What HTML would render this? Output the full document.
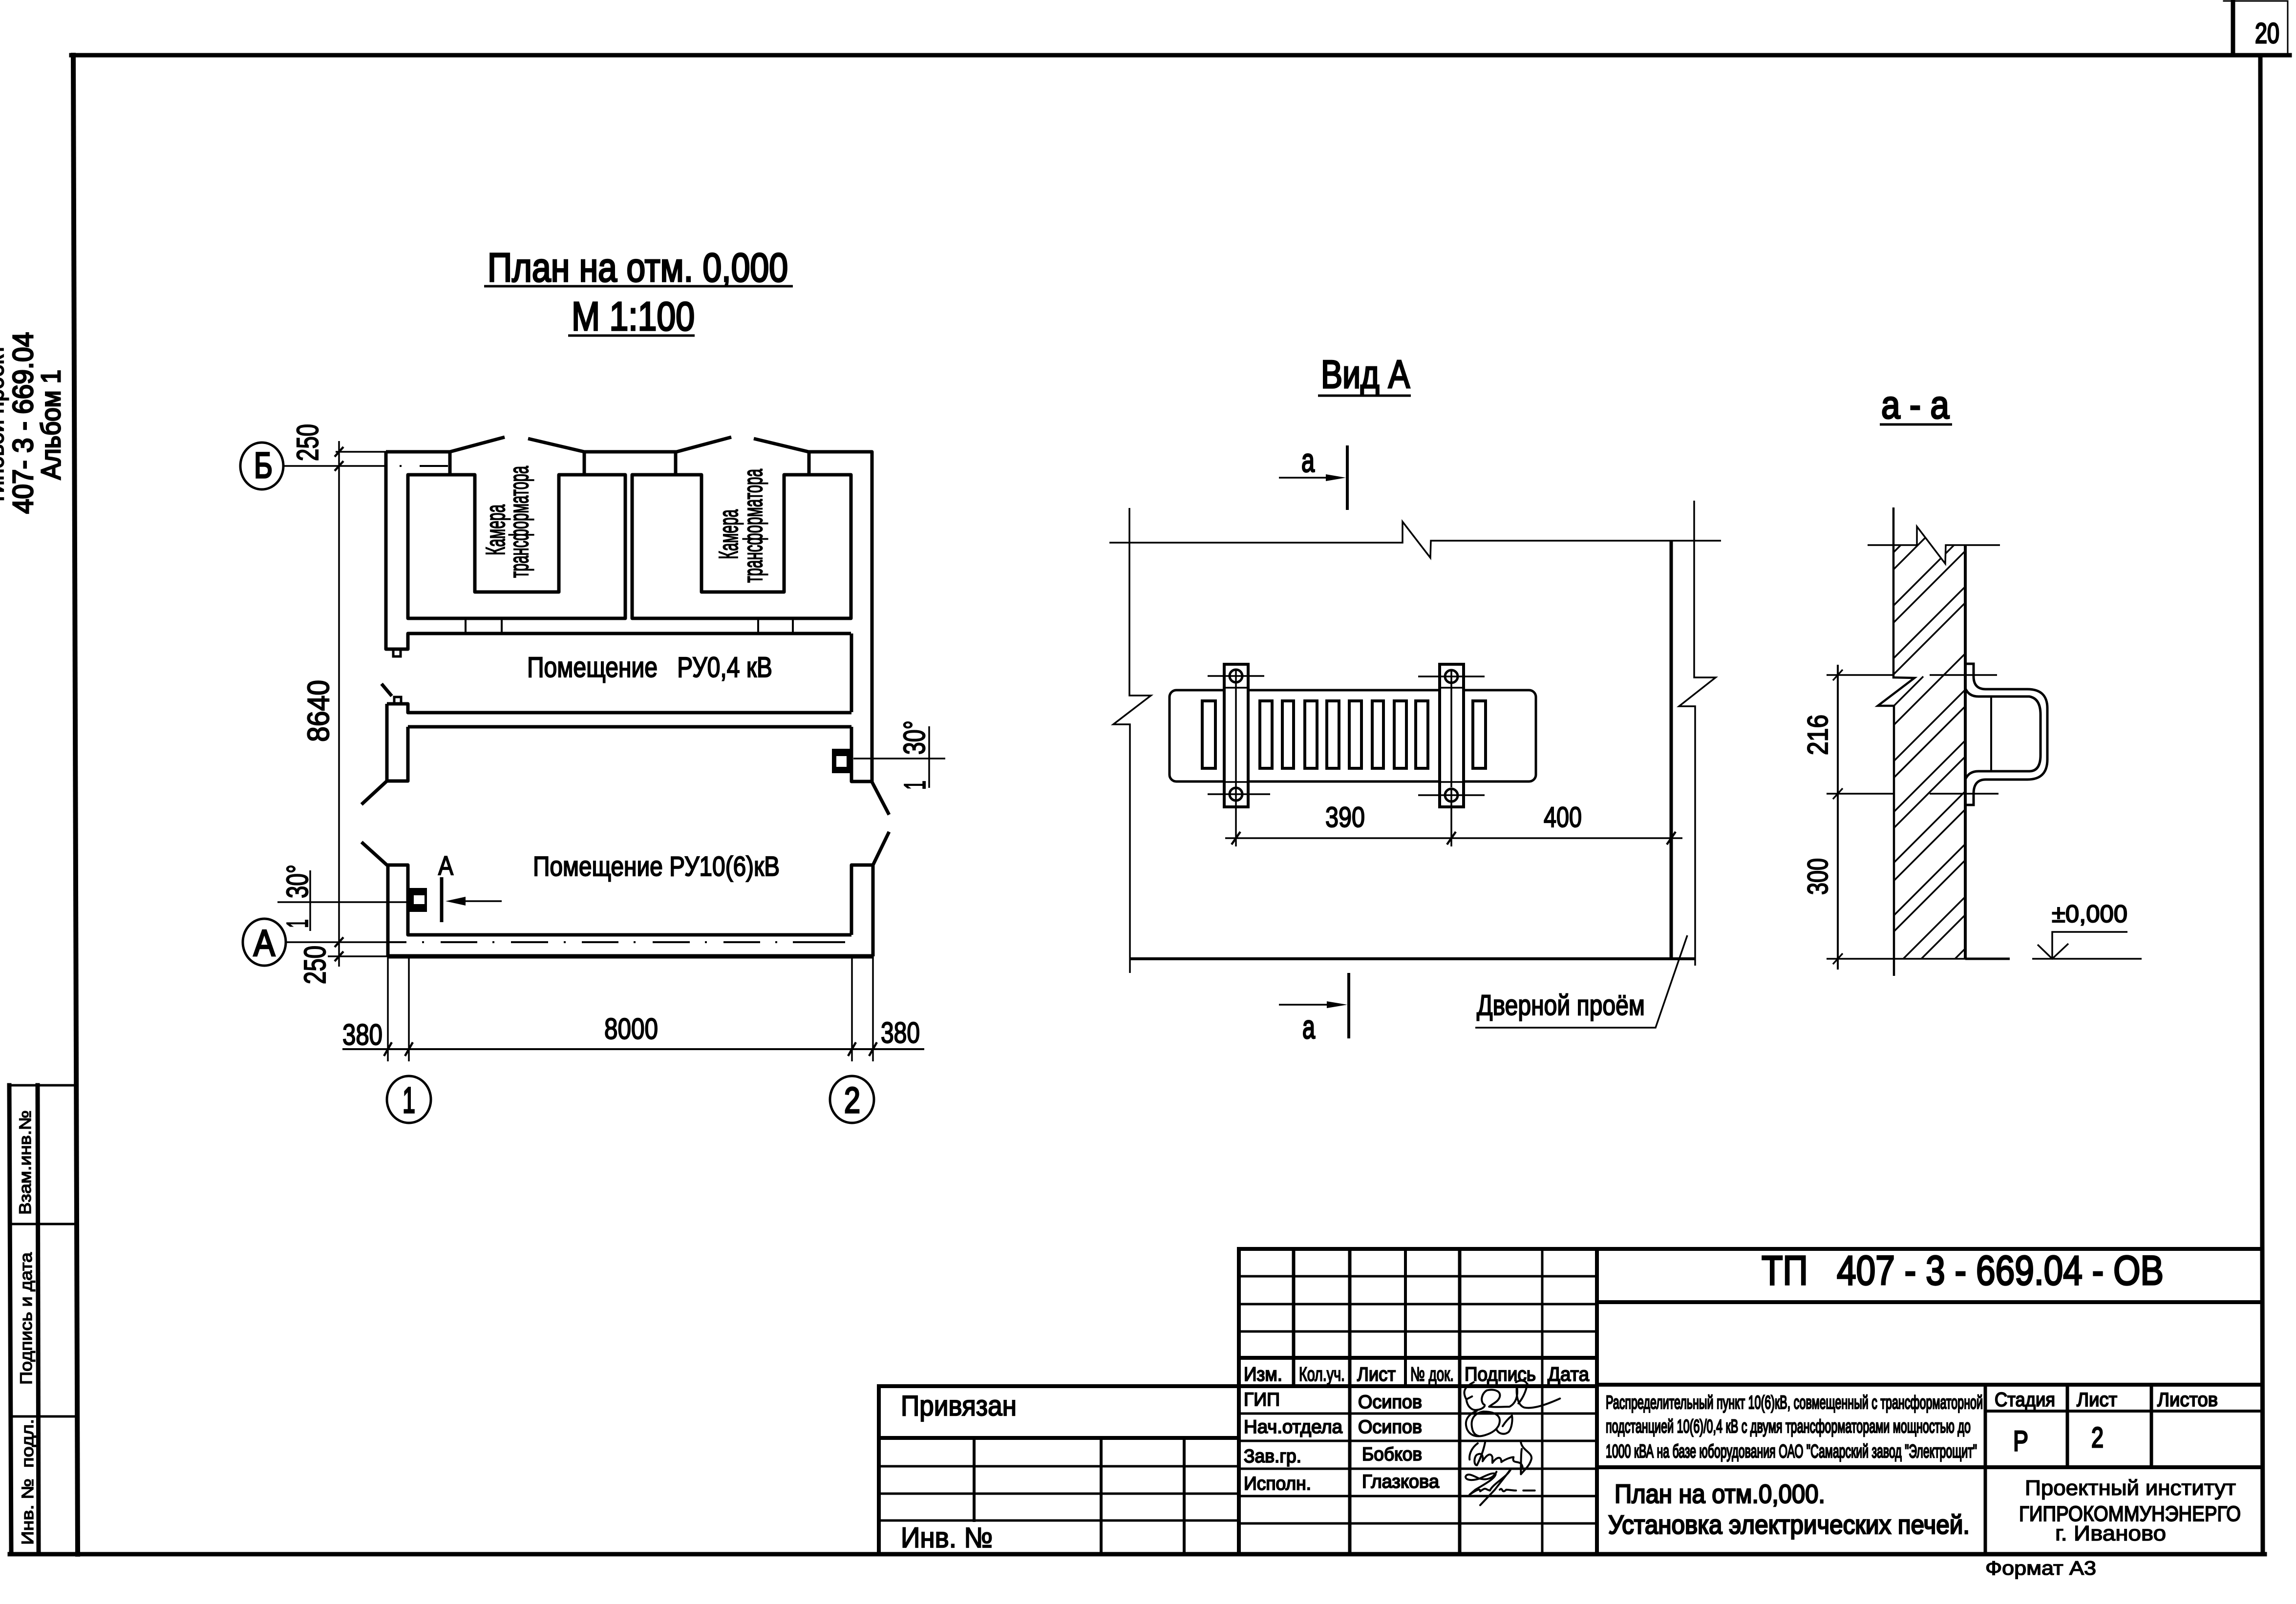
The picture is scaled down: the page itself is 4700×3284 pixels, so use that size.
<!DOCTYPE html>
<html><head><meta charset="utf-8"><style>
html,body{margin:0;padding:0;background:#fff}
svg{display:block}
text{font-family:"Liberation Sans",sans-serif;fill:#000;stroke:#000;stroke-width:2.2;white-space:pre}
</style></head><body>
<svg width="4700" height="3284" viewBox="0 0 4700 3284" xmlns="http://www.w3.org/2000/svg">
<rect width="4700" height="3284" fill="#fff"/>
<defs><clipPath id="wall"><polygon points="3877,1116 3924,1116 3924,1078 3982,1154 3983,1116 4023,1116 4023,1963 3877,1963 3877,1445 3844,1445 3919,1388 3877,1387"/></clipPath></defs>

<!-- frame -->
<g fill="none" stroke="#000" stroke-linecap="square">
<path d="M150 113 L159 3182" stroke-width="10"/>
<path d="M146 113 H4687" stroke-width="9"/>
<path d="M4627 113 L4632 3180" stroke-width="9"/>
<path d="M20 3182 H4636" stroke-width="9"/>
<path d="M4571 2 V113" stroke-width="9"/>
<path d="M4552 2 H4683 V113" stroke-width="3"/>
<!-- side stamp -->
<path d="M19 2222 L23 3179" stroke-width="9"/>
<path d="M77 2222 L79 3179" stroke-width="9"/>
<path d="M19 2222 H152" stroke-width="5"/>
<path d="M21 2506 H155" stroke-width="5"/>
<path d="M22 2900 H157" stroke-width="5"/>
</g>

<!-- plan walls -->
<g fill="none" stroke="#000" stroke-width="7" stroke-linejoin="round">
<path d="M790 925 V1329 H835 V1297 H1742"/>
<path d="M835 972 H972 V1212 H1144 V972 H1280 V1266 H835 Z"/>
<path d="M1294 972 H1436 V1212 H1605 V972 H1742 V1266 H1294 Z"/>
<path d="M790 925 H921 L1033 895"/>
<path d="M1081 898 L1196 925 H1385 L1497 895"/>
<path d="M1543 898 L1655 925 H1785 V1601 L1820 1668"/>
<path d="M1743 1297 V1458"/>
<path d="M1743 1488 V1600 H1785"/>
<path d="M921 925 V972 M1196 925 V972 M1383 925 V972 M1656 925 V972"/>
<path d="M781 1400 L802 1425"/>
<path d="M792 1441 H835 V1459 H1743"/>
<path d="M835 1488 H1743"/>
<path d="M792 1441 V1599 H835 V1488"/>
<path d="M792 1599 L740 1647"/>
<path d="M740 1724 L792 1771 H835 V1914 H1743"/>
<path d="M794 1771 V1958"/>
<path d="M1743 1914 V1771 H1787 V1958"/>
<path d="M1787 1771 L1820 1703"/>
<path d="M794 1958 H1787" stroke-width="9"/>
</g>
<g fill="none" stroke="#000" stroke-width="4">
<path d="M953 1266 V1297 M1027 1266 V1297 M1552 1266 V1297 M1623 1266 V1297"/>
<path d="M805 1329 V1344 H820 V1329" stroke-width="5"/>
<path d="M807 1441 V1427 H821 V1441" stroke-width="5"/>
<path d="M859 954 H917"/>
<path d="M820 952 V956"/>
<path d="M794 1929 H832 M902 1929 H977 M1046 1929 H1122 M1191 1929 H1266 M1336 1929 H1412 M1481 1929 H1556 M1623 1929 H1730"/>
<path d="M864 1929 H868 M1008 1929 H1012 M1154 1929 H1158 M1297 1929 H1301 M1443 1929 H1447 M1587 1929 H1591"/>
</g>
<!-- boxes -->
<rect x="1703" y="1533" width="40" height="50" fill="#000"/><rect x="1712" y="1548" width="21" height="22" fill="#fff"/>
<rect x="837" y="1818" width="37" height="49" fill="#000"/><rect x="847" y="1833" width="22" height="18" fill="#fff"/>

<!-- plan dims -->
<g fill="none" stroke="#000" stroke-width="3.5">
<path d="M694 903 V1979"/>
<path d="M687 925 H790 M582 954 H790 M587 1929 H794 M671 1958 H794"/>
<path d="M794 1958 V2173 M837 1958 V2173 M1744 1958 V2173 M1787 1958 V2173"/>
<path d="M701 2148 H1892" stroke-width="4"/>
<path d="M685 935 L703 915 M685 964 L703 944 M685 1939 L703 1919 M685 1968 L703 1948" stroke-width="4.5"/>
<path d="M786 2162 L802 2134 M829 2162 L845 2134 M1736 2162 L1752 2134 M1779 2162 L1795 2134" stroke-width="4.5"/>
<path d="M568 1847 H835"/>
<path d="M635 1782 V1906"/>
<path d="M1747 1553 H1935"/>
<path d="M1902 1487 V1613"/>
<path d="M904 1796 V1888" stroke-width="7"/>
<path d="M950 1845 H1027"/>
<ellipse cx="536" cy="954" rx="44" ry="48" stroke-width="5"/>
<ellipse cx="541" cy="1929" rx="44" ry="48" stroke-width="5"/>
<ellipse cx="837" cy="2251" rx="45" ry="48" stroke-width="5"/>
<ellipse cx="1744" cy="2251" rx="45" ry="48" stroke-width="5"/>
<path d="M991 586 H1623 M1163 687 H1422" stroke-width="5"/>
</g>
<polygon points="912,1845 953,1836 953,1854" fill="#000"/>

<!-- Vid A -->
<g fill="none" stroke="#000" stroke-width="3.5">
<path d="M2271 1111 H2871 V1068 L2928 1142 L2929 1107 H3523"/>
<path d="M2312 1040 V1424 H2356 L2279 1483 H2313 V1992"/>
<path d="M3468 1025 V1387 H3512 L3437 1446 H3470 V1977"/>
<path d="M2758 912 V1044" stroke-width="6"/>
<path d="M2761 1992 V2126" stroke-width="6"/>
<path d="M2618 978 H2720 M2618 2057 H2722"/>
<path d="M3421 1107 V1961" stroke-width="7"/>
<path d="M2313 1963 H3471" stroke-width="6"/>
<rect x="2394" y="1413" width="750" height="187" rx="14" stroke-width="5"/>
<g stroke-width="6">
<rect x="2461" y="1435" width="27" height="138"/>
<rect x="2579" y="1435" width="25" height="138"/>
<rect x="2625" y="1435" width="23" height="138"/>
<rect x="2671" y="1435" width="25" height="138"/>
<rect x="2716" y="1435" width="25" height="138"/>
<rect x="2762" y="1435" width="25" height="138"/>
<rect x="2809" y="1435" width="23" height="138"/>
<rect x="2854" y="1435" width="25" height="138"/>
<rect x="2898" y="1435" width="25" height="138"/>
<rect x="3015" y="1435" width="26" height="138"/>
<rect x="2506" y="1360" width="49" height="292" fill="#fff"/>
<rect x="2947" y="1360" width="49" height="292" fill="#fff"/>
</g>
<path d="M2530 1398 V1612 M2971 1398 V1612 M2506 1408 H2555 M2506 1601 H2555 M2947 1408 H2996 M2947 1601 H2996"/>
<path d="M2472 1384 H2588 M2472 1626 H2600 M2903 1385 H3039 M2903 1628 H3039"/>
<circle cx="2530" cy="1384" r="13" stroke-width="5"/>
<circle cx="2530" cy="1626" r="13" stroke-width="5"/>
<circle cx="2971" cy="1385" r="13" stroke-width="5"/>
<circle cx="2971" cy="1628" r="13" stroke-width="5"/>
<path d="M2530 1371 V1397 M2530 1640 V1733 M2971 1372 V1398 M2971 1641 V1733 M2530 1613 V1639 M2971 1615 V1641"/>
<path d="M2508 1716 H3444"/>
<path d="M2521 1729 L2539 1703 M2962 1729 L2980 1703 M3412 1729 L3430 1703" stroke-width="4.5"/>
<path d="M3020 2104 H3389 L3454 1915"/>
<path d="M2698 810 H2888 M3848 869 H3996" stroke-width="5"/>
</g>
<polygon points="2755,978 2714,971 2714,985" fill="#000"/>
<polygon points="2758,2057 2716,2050 2716,2064" fill="#000"/>

<!-- a-a -->
<g fill="none" stroke="#000" stroke-width="3.5">
<g clip-path="url(#wall)" stroke-width="3.5">
<path d="M3877 1165 l144 -144 M3877 1239 l144 -144 M3877 1274 l144 -144 M3877 1347 l144 -144 M3877 1380 l144 -144 M3877 1484 l144 -144 M3877 1558 l144 -144 M3877 1592 l144 -144 M3877 1662 l144 -144 M3877 1695 l144 -144 M3877 1766 l144 -144 M3877 1803 l144 -144 M3877 1874 l144 -144 M3877 1907 l144 -144 M3896 1963 l125 -125 M3933 1963 l88 -88 M4002 1963 l19 -19 M3877 1130 l20 -20 M3877 1445 l60 -60"/>
</g>
<path d="M3876 1039 V1387 L3919 1388 L3844 1445 H3877 V1998" stroke-width="4.5"/>
<path d="M4023 1116 V1963" stroke-width="6"/>
<path d="M3823 1116 H3924 V1078 L3982 1154 L3983 1116 H4094"/>
<path d="M3739 1963 H4023 M4023 1963 H4114"/>
<path d="M4023 1963 H4114" stroke-width="5"/>
<path d="M3739 1382 H3876 M3950 1382 H4088 M3739 1625 H3876 M3950 1625 H4091"/>
<path d="M3762 1361 V1985" stroke-width="4"/>
<path d="M3752 1393 L3772 1371 M3752 1636 L3772 1614 M3752 1974 L3772 1952"/>
<path d="M4020 1359 H4040 V1385 Q4040 1411 4065 1411 H4150 Q4191 1411 4191 1450 V1555 Q4191 1596 4150 1596 H4065 Q4040 1596 4040 1625 V1648 H4023" stroke-width="5"/>
<path d="M4023 1409 Q4030 1426 4050 1426 H4154 Q4177 1430 4177 1463 V1546 Q4177 1579 4154 1579 H4050 Q4030 1579 4023 1596" stroke-width="5"/>
<path d="M4076 1426 V1579" stroke-width="4"/>
<path d="M4160 1963 H4384 M4201 1963 V1908 H4355 M4171 1934 L4201 1963 L4234 1932"/>
</g>

<!-- title block -->
<g fill="none" stroke="#000" stroke-linecap="square">
<g stroke-width="8">
<path d="M2536 2557 H4630"/>
<path d="M1799 2838 H3269"/>
<path d="M2536 2780 H3269"/>
<path d="M1799 2944 H2536"/>
<path d="M3269 2666 H4630"/>
<path d="M3269 2835 H4630"/>
<path d="M3269 3004 H4630"/>
<path d="M4064 2889 H4630" stroke-width="6"/>
<path d="M1799 2838 V3182"/>
<path d="M2536 2557 V3182"/>
<path d="M3269 2557 V3182"/>
<path d="M2763 2557 V3182" stroke-width="7"/>
<path d="M2988 2557 V3182" stroke-width="7"/>
<path d="M2648 2557 V2838" stroke-width="7"/>
<path d="M2877 2557 V2838" stroke-width="6"/>
<path d="M3157 2557 V3182" stroke-width="5"/>
<path d="M1994 2944 V3113" stroke-width="6"/>
<path d="M2254 2944 V3182" stroke-width="6"/>
<path d="M2424 2944 V3182" stroke-width="6"/>
<path d="M4064 2835 V3182" stroke-width="7"/>
<path d="M4232 2835 V3004" stroke-width="7"/>
<path d="M4404 2835 V3004" stroke-width="7"/>
</g>
<g stroke-width="5">
<path d="M2536 2613 H3269 M2536 2670 H3269 M2536 2726 H3269"/>
<path d="M2536 2894 H3269 M2536 2950 H3269 M2536 3007 H3269 M2536 3063 H3269 M2536 3119 H3269"/>
<path d="M1799 3002 H2536 M1799 3058 H2536 M1799 3113 H2536"/>
</g>
</g>

<!-- signatures -->
<g transform="translate(2980 2810) scale(.3333)" fill="none" stroke="#000" stroke-width="12" stroke-linecap="round" stroke-linejoin="round">
<path d="M100 147 L65 165 M65 165 C40 120 50 90 110 60 M65 165 C70 210 100 235 130 230 C170 225 190 200 170 195 C150 170 160 130 190 110 C230 100 280 110 270 150 C260 180 230 190 205 210"/>
<path d="M205 210 C260 215 300 210 330 210 C370 190 385 140 375 85 C370 140 380 200 420 215 C470 225 540 205 640 160 M440 70 C430 120 410 160 385 190 M370 60 C400 40 440 50 438 80"/>
<path d="M130 235 C70 260 50 300 70 350 C90 390 130 400 180 385 C230 370 270 340 270 295 C270 260 230 240 170 240 C110 250 90 290 100 340 C105 370 120 385 140 390 M250 350 C265 380 300 385 325 365 C345 340 350 290 345 265 C320 285 300 310 288 330"/>
<path d="M135 435 C100 460 80 500 85 535 M180 430 C170 480 155 520 130 570 C110 570 110 520 130 505 C160 490 170 510 165 545 C190 505 215 490 225 520 C225 540 225 550 225 555 C250 520 280 510 280 550 C310 530 340 520 355 520 C340 570 400 530 410 580 M400 430 C410 480 470 490 465 530 C455 570 430 590 400 625 C400 590 400 500 405 470"/>
<path d="M250 610 C230 650 190 665 140 650 C100 630 70 615 60 640 C60 665 110 665 150 650 C190 630 235 610 245 625 C240 650 190 680 120 720 L85 750 C130 720 150 710 150 730 C190 700 180 720 210 725 C230 680 320 640 340 590 C320 620 270 680 240 720 L150 815 M270 720 C290 700 280 750 310 720 C330 720 345 725 370 725 M415 725 H485"/>
</g>

<!-- text -->
<g>
<text x="4616" y="88" font-size="58" textLength="50" lengthAdjust="spacingAndGlyphs" style="stroke-width:3">20</text>
<text x="998" y="576" font-size="83" textLength="615" lengthAdjust="spacingAndGlyphs" style="stroke-width:3.5">План на отм. 0,000</text>
<text x="1170" y="676" font-size="83" textLength="252" lengthAdjust="spacingAndGlyphs" style="stroke-width:3.5">М 1:100</text>
<text x="2704" y="794" font-size="81" textLength="182" lengthAdjust="spacingAndGlyphs" style="stroke-width:3.5">Вид А</text>
<text x="3851" y="856" font-size="80" textLength="139" lengthAdjust="spacingAndGlyphs" style="stroke-width:3.5">а - а</text>

<text x="1079" y="1386" font-size="58" textLength="502" lengthAdjust="spacingAndGlyphs">Помещение   РУ0,4 кВ</text>
<text x="1091" y="1793" font-size="57" textLength="505" lengthAdjust="spacingAndGlyphs">Помещение РУ10(6)кВ</text>
<text x="897" y="1791" font-size="55" textLength="31" lengthAdjust="spacingAndGlyphs">А</text>
<text transform="translate(1033 1137) rotate(-90)" font-size="55" textLength="104" lengthAdjust="spacingAndGlyphs">Камера</text>
<text transform="translate(1081 1183) rotate(-90)" font-size="55" textLength="229" lengthAdjust="spacingAndGlyphs">трансформатора</text>
<text transform="translate(1510 1145) rotate(-90)" font-size="55" textLength="102" lengthAdjust="spacingAndGlyphs">Камера</text>
<text transform="translate(1560 1193) rotate(-90)" font-size="55" textLength="233" lengthAdjust="spacingAndGlyphs">трансформатора</text>

<text transform="translate(651 944) rotate(-90)" font-size="62" textLength="76" lengthAdjust="spacingAndGlyphs">250</text>
<text transform="translate(666 2015) rotate(-90)" font-size="62" textLength="79" lengthAdjust="spacingAndGlyphs">250</text>
<text transform="translate(673 1519) rotate(-90)" font-size="62" textLength="127" lengthAdjust="spacingAndGlyphs">8640</text>
<text transform="translate(630 1839) rotate(-90)" font-size="62" textLength="69" lengthAdjust="spacingAndGlyphs">30°</text>
<text transform="translate(630 1900) rotate(-90)" font-size="62" textLength="18" lengthAdjust="spacingAndGlyphs">1</text>
<text transform="translate(1893 1545) rotate(-90)" font-size="62" textLength="70" lengthAdjust="spacingAndGlyphs">30°</text>
<text transform="translate(1894 1617) rotate(-90)" font-size="62" textLength="19" lengthAdjust="spacingAndGlyphs">1</text>
<text x="701" y="2139" font-size="60" textLength="82" lengthAdjust="spacingAndGlyphs">380</text>
<text x="1237" y="2127" font-size="60" textLength="110" lengthAdjust="spacingAndGlyphs">8000</text>
<text x="1803" y="2135" font-size="60" textLength="80" lengthAdjust="spacingAndGlyphs">380</text>
<text x="520" y="978" font-size="74" textLength="38" lengthAdjust="spacingAndGlyphs" style="stroke-width:3.5">Б</text>
<text x="519" y="1957" font-size="76" textLength="44" lengthAdjust="spacingAndGlyphs" style="stroke-width:3.5">А</text>
<text x="824" y="2278" font-size="74" textLength="26" lengthAdjust="spacingAndGlyphs" style="stroke-width:3.5">1</text>
<text x="1728" y="2278" font-size="74" textLength="33" lengthAdjust="spacingAndGlyphs" style="stroke-width:3.5">2</text>

<text x="2664" y="966" font-size="68" textLength="27" lengthAdjust="spacingAndGlyphs" style="stroke-width:3">а</text>
<text x="2666" y="2126" font-size="68" textLength="26" lengthAdjust="spacingAndGlyphs" style="stroke-width:3">а</text>
<text x="2713" y="1693" font-size="58" textLength="81" lengthAdjust="spacingAndGlyphs">390</text>
<text x="3160" y="1693" font-size="58" textLength="78" lengthAdjust="spacingAndGlyphs">400</text>
<text x="3023" y="2078" font-size="58" textLength="344" lengthAdjust="spacingAndGlyphs">Дверной проём</text>
<text transform="translate(3741 1546) rotate(-90)" font-size="58" textLength="83" lengthAdjust="spacingAndGlyphs">216</text>
<text transform="translate(3741 1832) rotate(-90)" font-size="58" textLength="75" lengthAdjust="spacingAndGlyphs">300</text>
<text x="4200" y="1888" font-size="50" textLength="155" lengthAdjust="spacingAndGlyphs">±0,000</text>

<!-- left margin -->
<text transform="translate(7 1035) rotate(-90)" font-size="50" textLength="330" lengthAdjust="spacingAndGlyphs">Типовой проект</text>
<text transform="translate(67 1052) rotate(-90)" font-size="58" textLength="372" lengthAdjust="spacingAndGlyphs" style="stroke-width:3">407- 3 - 669.04</text>
<text transform="translate(123 982) rotate(-90)" font-size="56" textLength="225" lengthAdjust="spacingAndGlyphs" style="stroke-width:3">Альбом 1</text>
<text transform="translate(63 2487) rotate(-90)" font-size="34" textLength="214" lengthAdjust="spacingAndGlyphs" style="stroke-width:1.5">Взам.инв.№</text>
<text transform="translate(65 2835) rotate(-90)" font-size="34" textLength="271" lengthAdjust="spacingAndGlyphs" style="stroke-width:1.5">Подпись и дата</text>
<text transform="translate(68 3163) rotate(-90)" font-size="34" textLength="258" lengthAdjust="spacingAndGlyphs" style="stroke-width:1.5">Инв. №  подл.</text>

<!-- title block text -->
<text x="1844" y="2898" font-size="58" textLength="237" lengthAdjust="spacingAndGlyphs">Привязан</text>
<text x="1844" y="3168" font-size="58" textLength="188" lengthAdjust="spacingAndGlyphs">Инв. №</text>
<text x="2546" y="2827" font-size="40" textLength="79" lengthAdjust="spacingAndGlyphs">Изм.</text>
<text x="2659" y="2827" font-size="40" textLength="94" lengthAdjust="spacingAndGlyphs">Кол.уч.</text>
<text x="2778" y="2827" font-size="40" textLength="79" lengthAdjust="spacingAndGlyphs">Лист</text>
<text x="2887" y="2827" font-size="40" textLength="89" lengthAdjust="spacingAndGlyphs">№ док.</text>
<text x="2998" y="2827" font-size="40" textLength="146" lengthAdjust="spacingAndGlyphs">Подпись</text>
<text x="3168" y="2827" font-size="40" textLength="85" lengthAdjust="spacingAndGlyphs">Дата</text>
<text x="2546" y="2878" font-size="38" textLength="74" lengthAdjust="spacingAndGlyphs">ГИП</text>
<text x="2780" y="2883" font-size="38" textLength="131" lengthAdjust="spacingAndGlyphs">Осипов</text>
<text x="2546" y="2934" font-size="38" textLength="202" lengthAdjust="spacingAndGlyphs">Нач.отдела</text>
<text x="2780" y="2934" font-size="38" textLength="131" lengthAdjust="spacingAndGlyphs">Осипов</text>
<text x="2546" y="2994" font-size="38" textLength="118" lengthAdjust="spacingAndGlyphs">Зав.гр.</text>
<text x="2788" y="2990" font-size="38" textLength="123" lengthAdjust="spacingAndGlyphs">Бобков</text>
<text x="2546" y="3050" font-size="38" textLength="138" lengthAdjust="spacingAndGlyphs">Исполн.</text>
<text x="2788" y="3046" font-size="38" textLength="158" lengthAdjust="spacingAndGlyphs">Глазкова</text>

<text x="3606" y="2630" font-size="84" textLength="823" lengthAdjust="spacingAndGlyphs" style="stroke-width:3.5">ТП   407 - 3 - 669.04 - ОВ</text>
<text x="3287" y="2884" font-size="38" textLength="772" lengthAdjust="spacingAndGlyphs" style="stroke-width:2.6">Распределительный пункт 10(6)кВ, совмещенный с трансформаторной</text>
<text x="3287" y="2933" font-size="38" textLength="747" lengthAdjust="spacingAndGlyphs" style="stroke-width:2.6">подстанцией 10(6)/0,4 кВ с двумя трансформаторами мощностью до</text>
<text x="3287" y="2984" font-size="38" textLength="760" lengthAdjust="spacingAndGlyphs" style="stroke-width:2.6">1000 кВА на базе юборудования ОАО "Самарский завод "Электрощит"</text>
<text x="4083" y="2879" font-size="40" textLength="124" lengthAdjust="spacingAndGlyphs">Стадия</text>
<text x="4251" y="2879" font-size="40" textLength="83" lengthAdjust="spacingAndGlyphs">Лист</text>
<text x="4416" y="2879" font-size="40" textLength="124" lengthAdjust="spacingAndGlyphs">Листов</text>
<text x="4121" y="2970" font-size="58" textLength="31" lengthAdjust="spacingAndGlyphs" style="stroke-width:3">Р</text>
<text x="4281" y="2963" font-size="58" textLength="25" lengthAdjust="spacingAndGlyphs" style="stroke-width:3">2</text>
<text x="3305" y="3077" font-size="54" textLength="431" lengthAdjust="spacingAndGlyphs" style="stroke-width:2.8">План на отм.0,000.</text>
<text x="3292" y="3140" font-size="54" textLength="740" lengthAdjust="spacingAndGlyphs" style="stroke-width:2.8">Установка электрических печей.</text>
<text x="4145" y="3061" font-size="44" textLength="432" lengthAdjust="spacingAndGlyphs" style="stroke-width:1.6">Проектный институт</text>
<text x="4133" y="3114" font-size="44" textLength="454" lengthAdjust="spacingAndGlyphs">ГИПРОКОММУНЭНЕРГО</text>
<text x="4207" y="3154" font-size="44" textLength="227" lengthAdjust="spacingAndGlyphs" style="stroke-width:1.6">г. Иваново</text>
<text x="4064" y="3224" font-size="40" textLength="227" lengthAdjust="spacingAndGlyphs" style="stroke-width:1.6">Формат А3</text>
</g>
</svg>
</body></html>
